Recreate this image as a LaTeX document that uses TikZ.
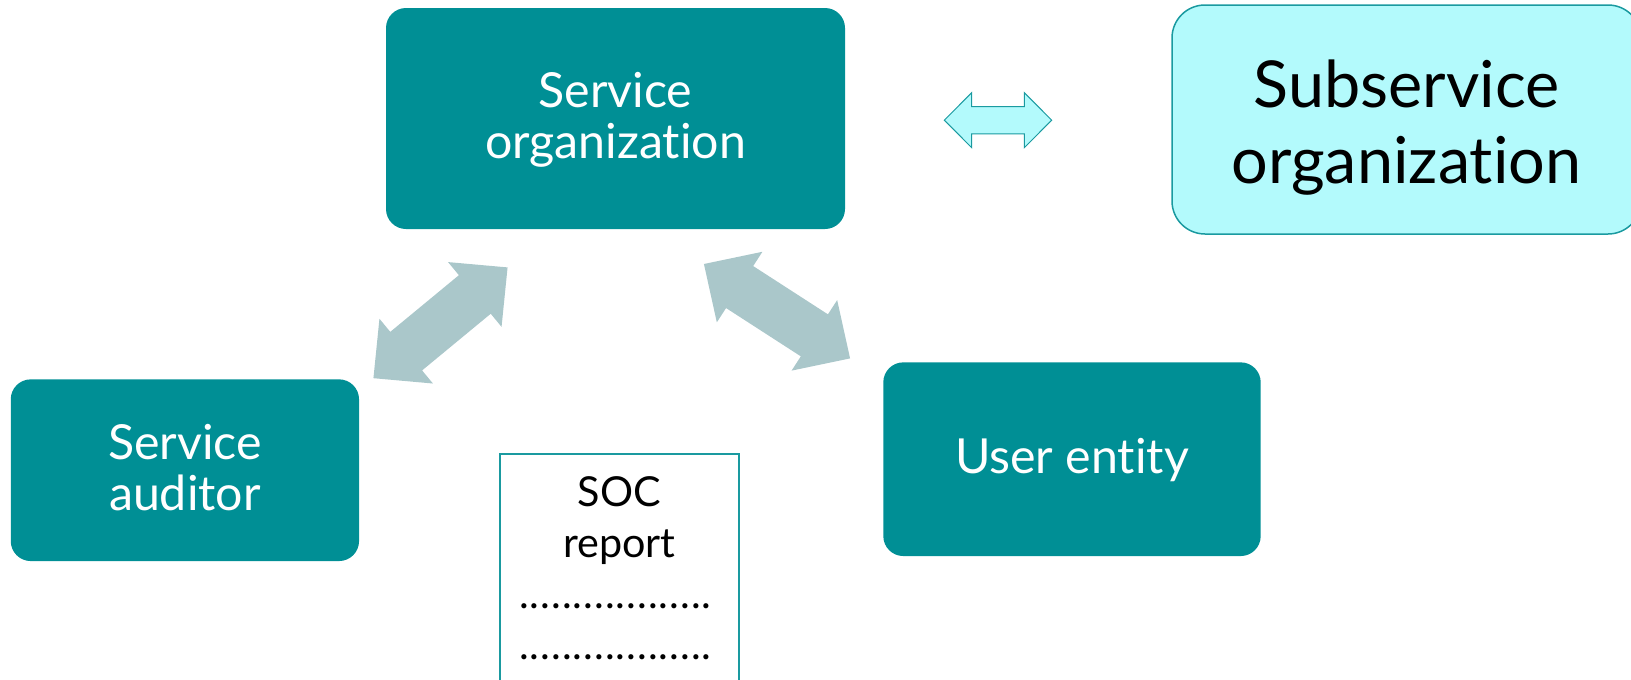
\documentclass[tikz,border=0pt]{standalone}
\usepackage{fontspec}
\setmainfont{Lato}[Ligatures={NoCommon,NoDiscretionary}]
\definecolor{boxteal}{HTML}{008F95}
\definecolor{edgeteal}{HTML}{1A9AA0}
\definecolor{paleaqua}{HTML}{B3FAFC}
\definecolor{flowgray}{HTML}{AAC7CA}
% line struts that fix the vertical placement of multi-line labels
\newcommand\bigline{\rule[-10.6pt]{0pt}{50.6pt}}
\newcommand\hugeline{\rule[-12.5pt]{0pt}{76pt}}
\newcommand\docline{\rule[-13pt]{0pt}{47pt}}
% a row of evenly spaced dots for the report body
\newcommand\dotcell{\makebox[10.75pt][c]{.}}
\newcommand\dotrow{\dotcell\dotcell\dotcell\dotcell\dotcell\dotcell
  \dotcell\dotcell\dotcell\dotcell\dotcell\dotcell
  \dotcell\dotcell\dotcell\dotcell\dotcell\dotcell\kern8pt}
\tikzset{
  party/.style={fill=boxteal, text=white, rounded corners=20pt, inner sep=0pt,
    align=center, font=\fontsize{48.3}{51}\selectfont},
  subparty/.style={fill=paleaqua, draw=edgeteal, line width=1.5pt, rounded corners=33pt,
    inner sep=0pt, align=center, font=\fontsize{64.7}{76}\selectfont},
  document/.style={fill=white, draw=edgeteal, line width=2pt, inner sep=0pt,
    align=center, font=\fontsize{41.3}{51}\selectfont},
  bigflow/.style={fill=flowgray},
  smallflow/.style={fill=paleaqua, draw=edgeteal, line width=1pt, line join=miter},
  pics/dblarrow/.style args={#1/#2/#3/#4}{code={
    \path[pic actions] (-#1,0) -- (-#1+#2,#3) -- (-#1+#2,#4) -- (#1-#2,#4) -- (#1-#2,#3)
      -- (#1,0) -- (#1-#2,-#3) -- (#1-#2,-#4) -- (-#1+#2,-#4) -- (-#1+#2,-#3) -- cycle;
  }}
}
\begin{document}
\begin{tikzpicture}[x=1pt, y=-1pt]
\useasboundingbox (0,0) rectangle (1631,680);

% parties
\node[party, minimum width=459pt, minimum height=221pt] (org) at (615.5,118.5)
  {\bigline Service\\\bigline organization};
\node[party, minimum width=348.3pt, minimum height=181.7pt] (aud) at (184.9,470.2)
  {\bigline Service\\\bigline auditor};
\node[party, minimum width=377.4pt, minimum height=193.7pt] (user) at (1072,459.2)
  {\bigline User entity};
\node[subparty, minimum width=469pt, minimum height=229pt] (sub) at (1406.5,119.5)
  {\hugeline Subservice\\\hugeline organization};

% the report
\node[document, minimum width=239pt, minimum height=236pt] (soc) at (619.5,572)
  {\docline SOC\\\docline report\\\docline\dotrow\\\docline\dotrow};

% two-way flows
\coordinate (orgaud) at (440.5,322.8);
\coordinate (orguser) at (777,311.2);
\coordinate (orgsub) at (998,120.2);
\pic[bigflow, rotate=39.55] at (orgaud) {dblarrow={87/42.5/42/25}};
\pic[bigflow, rotate=-32.86] at (orguser) {dblarrow={87/42.5/42/25}};
\pic[smallflow] at (orgsub) {dblarrow={53.7/27.4/27.5/13.7}};
\end{tikzpicture}
\end{document}
